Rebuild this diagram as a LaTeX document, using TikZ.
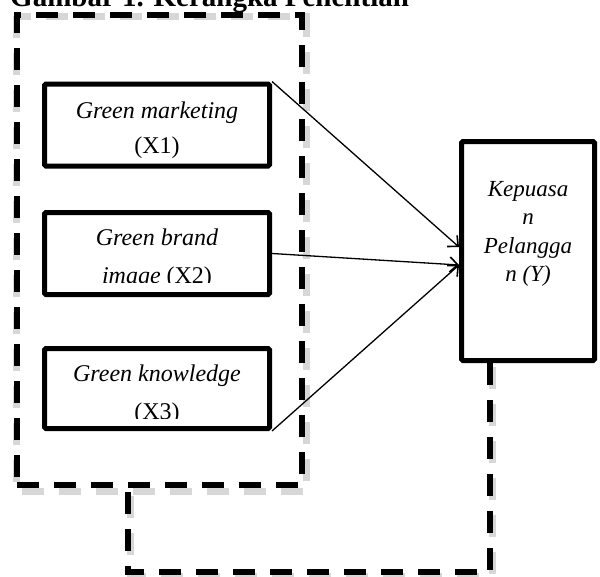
\documentclass[tikz,border=0pt]{standalone}
\usepackage{fontspec}
\setmainfont{Liberation Serif}
\usetikzlibrary{arrows.meta,positioning,backgrounds}

\tikzset{
  varbox/.style={draw, line width=5pt, rounded corners=1.5pt, minimum width=225pt, minimum height=82pt, inner sep=0pt},
  boxtext/.style={align=center, inner sep=0pt, font=\fontsize{24}{35}\selectfont},
  dashline/.style={line width=5.5pt, dash pattern=on 22pt off 15pt},
  dashshade/.style={line width=7pt, dash pattern=on 22pt off 15pt, black!35, opacity=.45},
  link/.style={line width=1.3pt, -{Straight Barb[length=8pt,width=15pt,line width=1.6pt]}},
}

\begin{document}
\begin{tikzpicture}[x=1pt,y=-1pt]
\useasboundingbox (0,0) rectangle (600,576);

% caption, cut by the page top
\node[anchor=base west, inner sep=0pt, font=\fontsize{29}{32}\selectfont\bfseries] (judul) at (10,6) {Gambar 1. Kerangka Penelitian};

% dashed frame round the X variables
\node[draw, dashline, inner sep=0pt, minimum width=285pt, minimum height=470pt] (grp) at (159.5,250) {};

% boxes
\node[varbox] (x1) at (157,125) {};
\node[varbox] (x2) at (157,253.5) {};
\node[varbox, minimum height=80pt] (x3) at (157,388.5) {};
\node[varbox, minimum width=133pt, minimum height=219pt] (kp) at (528,251) {};

% box texts
\node[boxtext] (x1txt) at (157,130) {\textit{Green marketing}\\(X1)};
\begin{scope}
  \clip (45,212) rectangle (270,282);
  \node[boxtext, font=\fontsize{24}{38}\selectfont] (x2txt) at (157,258.5) {\textit{Green brand}\\\textit{image} (X2)};
\end{scope}
\begin{scope}
  \clip (45,349) rectangle (270,418);
  \node[boxtext, font=\fontsize{24}{38}\selectfont] (x3txt) at (157,394.5) {\textit{Green knowledge}\\(X3)};
\end{scope}
\node[boxtext, font=\fontsize{23}{28.5}\selectfont\itshape] (kptxt) at (528,234) {Kepuasa\\n\\Pelangga\\n (Y)};

% arrows into Y
\draw[link] (x1.north east) -- ([yshift=4pt]kp.west);
\draw[link] (x2.east) -- ([yshift=-14pt]kp.west);
\draw[link] (x3.south east) -- ([yshift=-14pt]kp.west);

% dashed link from Y back to the frame
\draw[dashline] ([xshift=-38pt]kp.south) -- ++(0,209) -| ([xshift=-31.5pt]grp.south);

% soft shadow under the dashes
\begin{scope}[on background layer]
  \draw[dashshade] ([shift={(2,4)}]grp.north west) rectangle ([shift={(2,4)}]grp.south east);
  \draw[dashshade] ([shift={(-36,4)}]kp.south) -- ++(0,209) -| ([shift={(-29.5,4)}]grp.south);
\end{scope}
\end{tikzpicture}
\end{document}
